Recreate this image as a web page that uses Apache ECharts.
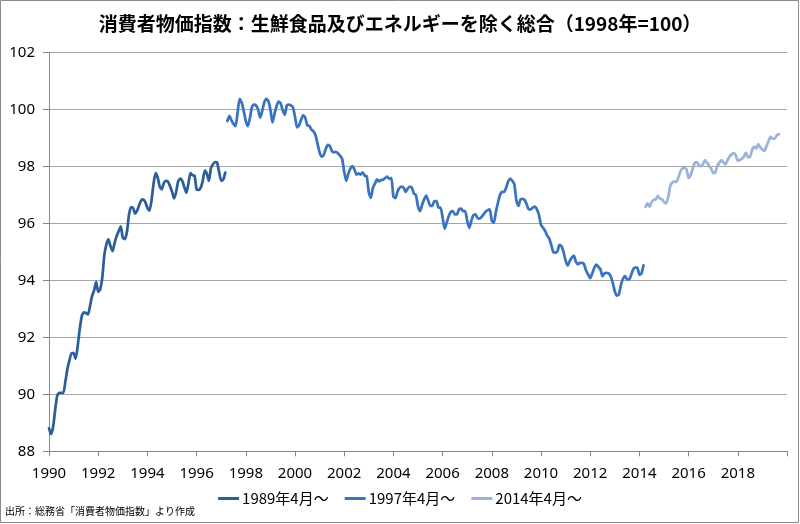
<!DOCTYPE html>
<html><head><meta charset="utf-8">
<script src="https://cdn.jsdelivr.net/npm/echarts@6.0.0/dist/echarts.min.js"></script>
<style>html,body{margin:0;padding:0;background:#fff}#c{width:800px;height:524px}</style>
</head><body><div id="c"></div>
<script>
const titleText = '消費者物価指数：生鮮食品及びエネルギーを除く総合（1998年=100）';
const sourceText = '出所：総務省「消費者物価指数」より作成';
const seriesNames = ['1989年4月～', '1997年4月～', '2014年4月～'];
const startYear = 1990, endYear = 2020;
const yTicks = {min: 88, max: 102, interval: 2};

// Jan 1990 - Mar 1997
const cpi1989 = [88.81, 88.6, 88.85, 89.45, 89.95, 90.05, 90.05, 90.05, 90.45, 90.9,
  91.2, 91.45, 91.45, 91.25, 91.7, 92.3, 92.75, 92.88, 92.86, 92.8,
  93.1, 93.45, 93.65, 93.95, 93.6, 93.7, 94.1, 94.9, 95.27, 95.44,
  95.2, 95.03, 95.32, 95.56, 95.73, 95.9, 95.5, 95.45, 95.7, 96.3,
  96.58, 96.55, 96.35, 96.45, 96.65, 96.82, 96.85, 96.75, 96.55, 96.45,
  96.8, 97.4, 97.77, 97.62, 97.3, 97.2, 97.42, 97.5, 97.47, 97.32,
  97.12, 96.88, 97.1, 97.48, 97.58, 97.5, 97.28, 97.08, 97.4, 97.77,
  97.7, 97.68, 97.2, 97.18, 97.26, 97.5, 97.86, 97.75, 97.5, 97.95,
  98.08, 98.16, 98.14, 97.8, 97.5, 97.55, 97.79];
// Apr 1997 - Mar 2014
const cpi1997 = [99.6, 99.78, 99.62, 99.5, 99.42, 99.9, 100.38, 100.25, 99.95, 99.6,
  99.42, 99.7, 100.1, 100.18, 100.15, 100.0, 99.72, 99.95, 100.25, 100.38,
  100.3, 100.0, 99.55, 99.85, 100.12, 100.28, 100.22, 99.98, 99.82, 100.15,
  100.18, 100.15, 100.08, 99.75, 99.38, 99.45, 99.65, 99.8, 99.72, 99.45,
  99.43, 99.3, 99.24, 99.1, 98.8, 98.5, 98.35, 98.4, 98.62, 98.76,
  98.72, 98.55, 98.5, 98.52, 98.46, 98.38, 98.27, 97.82, 97.5, 97.75,
  97.93, 98.02, 97.9, 97.72, 97.76, 97.72, 97.8, 97.68, 97.66, 97.1,
  96.9, 97.25, 97.4, 97.55, 97.48, 97.53, 97.54, 97.6, 97.65, 97.57,
  97.6, 96.95, 96.89, 97.12, 97.25, 97.3, 97.26, 97.11, 97.23, 97.3,
  97.26, 97.05, 97.0, 96.6, 96.44, 96.66, 96.85, 96.98, 96.8, 96.62,
  96.62, 96.79, 96.79, 96.56, 96.56, 96.21, 95.82, 96.03, 96.26, 96.41,
  96.44, 96.32, 96.32, 96.5, 96.52, 96.44, 96.44, 96.1, 95.85, 96.09,
  96.29, 96.32, 96.2, 96.17, 96.23, 96.32, 96.42, 96.47, 96.5, 96.1,
  96.03, 96.41, 96.73, 97.0, 97.11, 97.11, 97.26, 97.48, 97.58, 97.5,
  97.38, 96.8, 96.62, 96.85, 96.87, 96.83, 96.68, 96.5, 96.5, 96.56,
  96.59, 96.5, 96.3, 95.95, 95.85, 95.74, 95.58, 95.47, 95.25, 95.0,
  94.98, 95.02, 95.25, 95.2, 95.0, 94.7, 94.53, 94.68, 94.8, 94.87,
  94.66, 94.57, 94.62, 94.62, 94.57, 94.35, 94.21, 94.08, 94.25, 94.44,
  94.56, 94.48, 94.39, 94.15, 94.25, 94.27, 94.25, 94.15, 93.92, 93.62,
  93.47, 93.51, 93.85, 94.06, 94.15, 94.04, 94.04, 94.2, 94.4, 94.45,
  94.45, 94.2, 94.25, 94.53];
// Apr 2014 - Sep 2019
const cpi2014 = [96.59, 96.71, 96.59, 96.76, 96.83, 96.85, 96.97, 96.87, 96.85, 96.76,
  96.71, 96.91, 97.3, 97.44, 97.47, 97.46, 97.62, 97.82, 97.94, 97.95,
  97.9, 97.6, 97.7, 97.93, 98.13, 98.16, 98.05, 98.02, 98.08, 98.23,
  98.14, 98.02, 97.93, 97.77, 97.79, 98.02, 98.14, 98.23, 98.14, 98.08,
  98.23, 98.35, 98.43, 98.47, 98.4, 98.2, 98.23, 98.28, 98.35, 98.49,
  98.32, 98.35, 98.59, 98.7, 98.63, 98.79, 98.67, 98.6, 98.55, 98.72,
  98.9, 99.04, 98.98, 98.98, 99.1, 99.14];

const months = [];
for (let y = startYear; y < endYear; y++) for (let m = 1; m <= 12; m++) months.push(y + '/' + m);
months.push(endYear + '/1');

function place(values, startIdx) {
  const arr = new Array(months.length).fill(null);
  values.forEach((v, i) => { arr[startIdx + i] = v; });
  return arr;
}
const s1 = place(cpi1989, 0);
const s2 = place(cpi1997, cpi1989.length);
const s3 = place(cpi2014, cpi1989.length + cpi1997.length);

const colors = ['#2e5e98', '#3b74be', '#9cb2d6'];
const chart = echarts.init(document.getElementById('c'), null, {renderer: 'canvas'});
const lineSeries = (name, data, color) => ({
  name, type: 'line', data, symbol: 'none', smooth: 0.2, connectNulls: false,
  lineStyle: {color, width: 2.75, join: 'round', cap: 'round'}, itemStyle: {color},
  emphasis: {disabled: true}, animation: false
});
chart.setOption({
  animation: false,
  backgroundColor: '#fff',
  title: {text: titleText, left: 'center', top: 9,
    textStyle: {fontFamily: 'Noto Sans CJK JP', fontSize: 19, fontWeight: 'bold', color: '#000'}},
  grid: {left: 49, right: 13, top: 52.7, bottom: 72.7, containLabel: false, outerBoundsMode: 'none'},
  legend: {top: 486, left: 'center', icon: 'rect', itemWidth: 21, itemHeight: 3, itemGap: 16,
    textStyle: {fontFamily: 'Noto Sans CJK JP', fontSize: 15, color: '#000', padding: [0, 0, 0, -2]},
    data: seriesNames},
  xAxis: {type: 'category', data: months, boundaryGap: false,
    axisLine: {lineStyle: {color: '#868686', width: 1}},
    axisTick: {show: true, length: 5, interval: (i) => i % 24 === 0, lineStyle: {color: '#868686'}},
    axisLabel: {interval: (i) => i % 24 === 0 && i < months.length - 1, margin: 15,
      formatter: (v) => v.split('/')[0],
      fontFamily: 'Noto Sans', fontSize: 15, color: '#000'},
    splitLine: {show: false}},
  yAxis: {type: 'value', min: yTicks.min, max: yTicks.max, interval: yTicks.interval,
    axisLine: {show: true, lineStyle: {color: '#868686'}},
    axisTick: {show: true, length: 6, lineStyle: {color: '#868686'}},
    axisLabel: {margin: 14, fontFamily: 'Noto Sans', fontSize: 15, color: '#000'},
    splitLine: {lineStyle: {color: '#a6a6a6', width: 1}}},
  graphic: [
    {type: 'rect', shape: {x: 0.5, y: 0.5, width: 798, height: 522}, style: {fill: null, stroke: '#8a8a8a', lineWidth: 1}, silent: true},
    {type: 'text', left: 5, top: 506, style: {text: sourceText, fontFamily: 'Noto Sans CJK JP', fontSize: 10, fill: '#000'}, silent: true}
  ],
  series: [lineSeries(seriesNames[0], s1, colors[0]), lineSeries(seriesNames[1], s2, colors[1]), lineSeries(seriesNames[2], s3, colors[2])]
});
</script></body></html>
